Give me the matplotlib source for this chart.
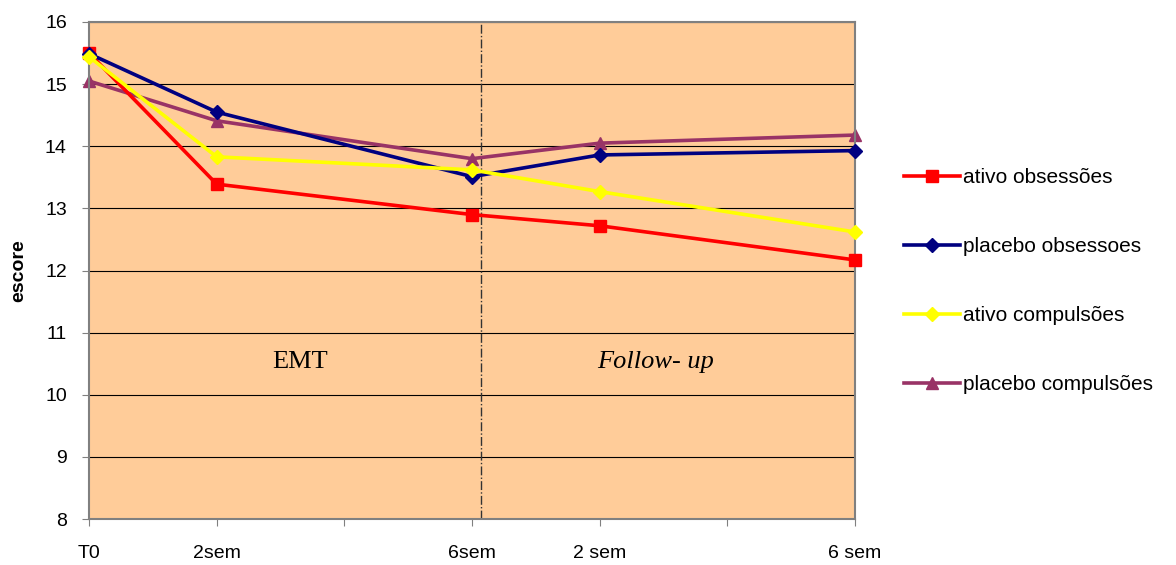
import matplotlib.pyplot as plt
import numpy as np

# time points (tick positions 0..6, labels only on some)
x_pos = [0, 1, 3, 4, 6]
x_labels = ['T0', '2sem', '6sem', '2 sem', '6 sem']

ativo_obs = [15.5, 13.39, 12.9, 12.72, 12.17]
placebo_obs = [15.49, 14.55, 13.51, 13.86, 13.93]
ativo_comp = [15.44, 13.83, 13.62, 13.27, 12.62]
placebo_comp = [15.05, 14.41, 13.8, 14.05, 14.18]

plt.rcParams['font.family'] = ['Liberation Sans', 'DejaVu Sans']

fig = plt.figure(figsize=(11.76, 5.65), dpi=100)
ax = fig.add_axes([89/1176, 1-519/565, (855-89)/1176, (519-22)/565])
ax.set_facecolor('#FFCC99')

ax.plot(x_pos, ativo_obs, color='#FF0000', lw=2.6, marker='s', ms=8.5, label='ativo obsessões', zorder=3, clip_on=False)
ax.plot(x_pos, placebo_obs, color='#000080', lw=2.6, marker='D', ms=7.5, label='placebo obsessoes', zorder=4, clip_on=False)
ax.plot(x_pos, ativo_comp, color='#FFFF00', lw=2.6, marker='D', ms=7.5, label='ativo compulsões', zorder=5, clip_on=False)
ax.plot(x_pos, placebo_comp, color='#993366', lw=2.6, marker='^', ms=9, label='placebo compulsões', zorder=2, clip_on=False)

# separator between treatment and follow-up
ax.axvline(3.07, color='#333333', lw=1, ls='-.', zorder=1)
ax.text(1.65, 10.53, 'EMT', family='Liberation Serif', fontsize=19, ha='center', va='center')
ax.text(4.44, 10.53, 'Follow- up', family='Liberation Serif', style='italic', fontsize=19, ha='center', va='center')

ax.set_xlim(0, 6)
ax.set_ylim(8, 16)
ax.set_yticks(range(8, 17))
ax.set_xticks(range(0, 7))
ax.set_xticklabels([''] * 7)
ax.xaxis.remove_overlapping_locs = False
ax.set_xticks(x_pos, minor=True)
ax.set_xticklabels(x_labels, minor=True)
ax.tick_params(axis='x', which='minor', length=0, pad=19, labelsize=14)
ax.tick_params(axis='x', which='major', length=5, color='#808080')
ax.tick_params(axis='y', length=5, pad=11, labelsize=14, color='#808080')
ax.yaxis.grid(True, color='#000000', lw=0.8)
ax.set_axisbelow(True)
for s in ax.spines.values():
    s.set_color('#808080')
    s.set_linewidth(1.5)

ax.set_ylabel('escore', fontsize=14, fontweight='bold', labelpad=13)

fig.legend(loc='center left', bbox_to_anchor=(885/1176, 1-281/565), frameon=False,
           fontsize=15, handlelength=2.7, labelspacing=2.4, handletextpad=0.15)

fig.savefig('out.png', dpi=100)
